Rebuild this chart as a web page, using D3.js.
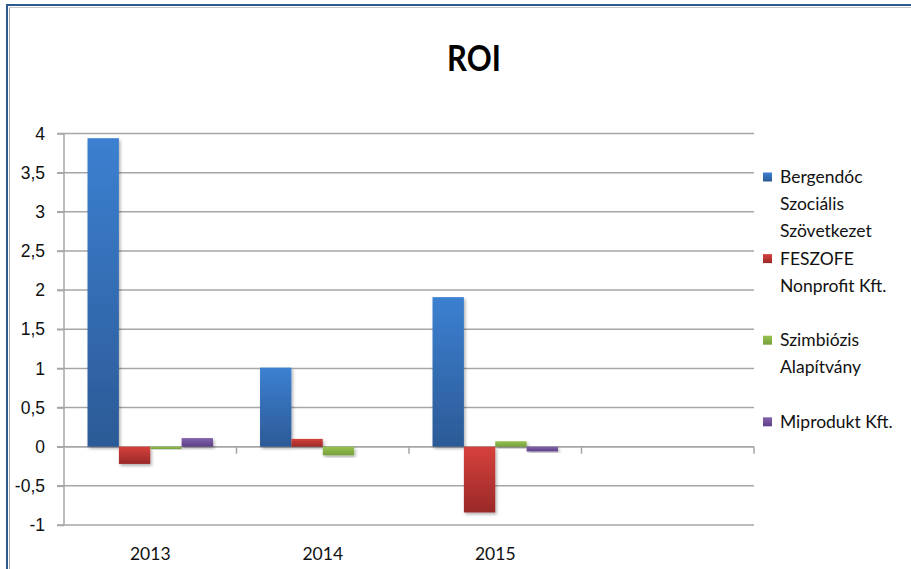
<!DOCTYPE html>
<html>
<head>
<meta charset="utf-8">
<script src="https://cdn.jsdelivr.net/npm/d3@7"></script>
<style>
    html, body { margin: 0; padding: 0; background: #fff; }
    svg { display: block; font-family: Lato, 'Open Sans', sans-serif; }
    .grid line { stroke: #a6a6a6; stroke-width: 1.5; }
    .axis path, .axis line { stroke: #a6a6a6; stroke-width: 1.5; }
    .axis text { fill: #111; font-size: 17.5px; }
    .legend text { font-size: 17.5px; fill: #111; }
</style>
</head>
<body>
<svg width="911" height="569"></svg>
<script>

const categories = ['2013', '2014', '2015', ''];
const seriesNames = ['Bergendóc Szociális Szövetkezet', 'FESZOFE Nonprofit Kft.', 'Szimbiózis Alapítvány', 'Miprodukt Kft.'];
const bergendoc = [3.94, 1.01, 1.91];
const feszofe = [-0.22, 0.10, -0.84];
const szimbiozis = [-0.03, -0.11, 0.07];
const miprodukt = [0.11, 0.00, -0.06];
const yTicks = [-1, -0.5, 0, 0.5, 1, 1.5, 2, 2.5, 3, 3.5, 4];

const seriesValues = [bergendoc, feszofe, szimbiozis, miprodukt];
const colors = [
    ['#3c80d1', '#2c5a96'],
    ['#d6413c', '#9a2928'],
    ['#97c250', '#76a03b'],
    ['#8263ab', '#5d3e88'],
];

const sizes = {
    WIDTH: 911,
    HEIGHT: 569,
    plot: { left: 64, right: 754, top: 133.5, bottom: 525 },
    legend: { x: 763, textX: 780, top: 177, step: 81.6, line: 26.8, maxWidth: 128 },
};

var svg = d3.select('svg');
var defs = svg.append('defs');

// FRAME

svg.append('line').attr('x1', 7).attr('x2', 7).attr('y1', 5).attr('y2', sizes.HEIGHT)
    .attr('stroke', '#2d5b8e').attr('stroke-width', 2);
svg.append('line').attr('x1', 6).attr('x2', sizes.WIDTH).attr('y1', 5).attr('y2', 5)
    .attr('stroke', '#2d5b8e').attr('stroke-width', 2);
svg.append('line').attr('x1', 9.5).attr('x2', 9.5).attr('y1', 7).attr('y2', sizes.HEIGHT)
    .attr('stroke', '#a8a8a8').attr('stroke-width', 1);
svg.append('line').attr('x1', 9).attr('x2', sizes.WIDTH).attr('y1', 7.5).attr('y2', 7.5)
    .attr('stroke', '#c8c8c8').attr('stroke-width', 1);

// TITLE (squeezed a bit, the original font is narrower)

svg.append('text')
    .attr('transform', 'translate(474,71) scale(0.86,1)')
    .attr('text-anchor', 'middle')
    .style('font-weight', 'bold')
    .style('font-size', '36px')
    .text('ROI');

// SCALES

var x0 = d3.scaleBand()
    .domain(d3.range(categories.length))
    .range([sizes.plot.left, sizes.plot.right]);

var x1 = d3.scaleBand()
    .domain(d3.range(seriesNames.length))
    .range([0, x0.bandwidth()])
    .paddingOuter(0.75)
    .paddingInner(0);

var y = d3.scaleLinear()
    .domain([-1, 4])
    .range([sizes.plot.bottom, sizes.plot.top]);

// GRADIENTS + SHADOW

colors.forEach((c, i) => {
    var g = defs.append('linearGradient')
        .attr('id', 'grad' + i)
        .attr('x1', 0).attr('x2', 0).attr('y1', 0).attr('y2', 1);
    g.append('stop').attr('offset', '0%').attr('stop-color', c[0]);
    g.append('stop').attr('offset', '100%').attr('stop-color', c[1]);
});

var shadow = defs.append('filter')
    .attr('id', 'shadow')
    .attr('x', '-30%').attr('y', '-30%').attr('width', '160%').attr('height', '160%');
shadow.append('feDropShadow')
    .attr('dx', 1.5).attr('dy', 2)
    .attr('stdDeviation', 1.6)
    .attr('flood-color', '#000')
    .attr('flood-opacity', 0.3);

// GRID

svg.append('g')
    .attr('class', 'grid')
    .selectAll('line')
    .data(yTicks)
    .join('line')
    .attr('x1', sizes.plot.left - 7)
    .attr('x2', sizes.plot.right)
    .attr('y1', d => y(d))
    .attr('y2', d => y(d));

// Y AXIS

var yAxis = d3.axisLeft(y)
    .tickValues(yTicks)
    .tickSize(7)
    .tickPadding(12)
    .tickFormat(d => String(d).replace('.', ','));

var gY = svg.append('g')
    .attr('class', 'axis axis--y')
    .attr('transform', 'translate(' + sizes.plot.left + ',0)')
    .call(yAxis);
gY.select('.domain').remove();
gY.append('line')
    .attr('x1', 0).attr('x2', 0)
    .attr('y1', sizes.plot.top).attr('y2', sizes.plot.bottom)
    .attr('stroke', '#a6a6a6').attr('stroke-width', 1.5);

// X AXIS (at zero)

var xBoundary = d3.scaleLinear()
    .domain([0, categories.length])
    .range([sizes.plot.left, sizes.plot.right]);

var gX = svg.append('g')
    .attr('class', 'axis axis--x')
    .attr('transform', 'translate(0,' + y(0) + ')');

gX.append('line')
    .attr('x1', sizes.plot.left).attr('x2', sizes.plot.right)
    .attr('y1', 0).attr('y2', 0);

gX.selectAll('.tick')
    .data(d3.range(1, categories.length + 1))
    .join('line')
    .attr('class', 'tick')
    .attr('x1', d => xBoundary(d)).attr('x2', d => xBoundary(d))
    .attr('y1', 0).attr('y2', 7);

svg.append('g')
    .attr('class', 'axis')
    .selectAll('text')
    .data(categories)
    .join('text')
    .attr('x', (d, i) => x0(i) + x0.bandwidth() / 2)
    .attr('y', 560)
    .attr('text-anchor', 'middle')
    .text(d => d);

// BARS

var gBars = svg.append('g').attr('class', 'bars');

seriesValues.forEach((values, s) => {
    gBars.append('g')
        .selectAll('rect')
        .data(values)
        .join('rect')
        .attr('x', (d, i) => x0(i) + x1(s))
        .attr('width', x1.bandwidth())
        .attr('y', d => y(Math.max(0, d)))
        .attr('height', d => Math.abs(y(d) - y(0)))
        .attr('fill', 'url(#grad' + s + ')')
        .attr('filter', 'url(#shadow)');
});

// LEGEND

function wrap(label, maxWidth, probe) {
    var words = label.split(' ');
    var lines = [];
    var current = '';
    words.forEach(w => {
        var test = current ? current + ' ' + w : w;
        probe.text(test);
        if (current && probe.node().getComputedTextLength() > maxWidth) {
            lines.push(current);
            current = w;
        } else {
            current = test;
        }
    });
    if (current) lines.push(current);
    return lines;
}

var gLegend = svg.append('g').attr('class', 'legend');
var probe = gLegend.append('text');

seriesNames.forEach((name, i) => {
    var cy = sizes.legend.top + i * sizes.legend.step;
    gLegend.append('rect')
        .attr('x', sizes.legend.x)
        .attr('y', cy - 4.5)
        .attr('width', 9)
        .attr('height', 9)
        .attr('fill', 'url(#grad' + i + ')');

    var lines = wrap(name, sizes.legend.maxWidth, probe);
    var t = gLegend.append('text')
        .attr('x', sizes.legend.textX)
        .attr('y', cy);
    t.selectAll('tspan')
        .data(lines)
        .join('tspan')
        .attr('x', sizes.legend.textX)
        .attr('dy', (d, j) => j === 0 ? '0.35em' : sizes.legend.line)
        .text(d => d);
});

probe.remove();

</script>
</body>
</html>
